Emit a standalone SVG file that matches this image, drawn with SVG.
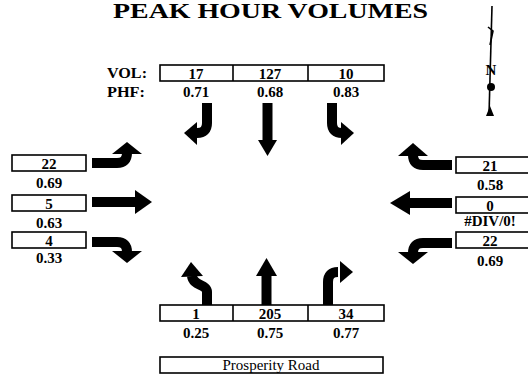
<svg xmlns="http://www.w3.org/2000/svg" width="528" height="385" viewBox="0 0 528 385">
<style>
.t{font-family:"Liberation Serif","Times New Roman",serif;fill:#000}
.b{font-weight:bold}
.v{font-size:15px;font-weight:bold;text-anchor:middle}
.lab{font-size:15px;font-weight:bold}
.box{fill:#fff;stroke:#000;stroke-width:1.6}
.shaft{fill:none;stroke:#000;stroke-width:10}
.hd{fill:#000}
</style>
<rect width="528" height="385" fill="#fff"/>
<g id="title">
<text class="t b" x="113" y="18" font-size="20" textLength="315" lengthAdjust="spacingAndGlyphs">PEAK HOUR VOLUMES</text>
</g>
<g id="north-arrow">
<line x1="492" y1="6" x2="489" y2="115" stroke="#000" stroke-width="1.6"/>
<path d="M488,27 L493,31 L490,45" fill="none" stroke="#000" stroke-width="1.6"/>
<text class="t b" x="491" y="75" font-size="15" text-anchor="middle">N</text>
<circle cx="491" cy="87" r="4" fill="#000"/>
<path d="M486,116 L494,116 L490,106 Z" fill="#000"/>
</g>
<g id="southbound">
<text class="t lab" x="107" y="78" textLength="40" lengthAdjust="spacingAndGlyphs">VOL:</text>
<text class="t lab" x="107" y="97" textLength="38" lengthAdjust="spacingAndGlyphs">PHF:</text>
<rect class="box" x="160" y="65" width="224" height="16"/>
<line x1="233" y1="65" x2="233" y2="81" stroke="#000" stroke-width="1.6"/>
<line x1="308" y1="65" x2="308" y2="81" stroke="#000" stroke-width="1.6"/>
<text class="t v" x="196" y="79">17</text>
<text class="t v" x="270" y="79">127</text>
<text class="t v" x="346" y="79">10</text>
<text class="t v" x="196" y="97">0.71</text>
<text class="t v" x="270" y="97">0.68</text>
<text class="t v" x="346" y="97">0.83</text>
</g>
<g id="northbound">
<rect class="box" x="160" y="305" width="224" height="16"/>
<line x1="233" y1="305" x2="233" y2="321" stroke="#000" stroke-width="1.6"/>
<line x1="308" y1="305" x2="308" y2="321" stroke="#000" stroke-width="1.6"/>
<text class="t v" x="196" y="319">1</text>
<text class="t v" x="270" y="319">205</text>
<text class="t v" x="346" y="319">34</text>
<text class="t v" x="196" y="338">0.25</text>
<text class="t v" x="270" y="338">0.75</text>
<text class="t v" x="346" y="338">0.77</text>
</g>
<g id="eastbound">
<rect class="box" x="12" y="155" width="74" height="16"/>
<text class="t v" x="49" y="169">22</text>
<text class="t v" x="49" y="188">0.69</text>
<rect class="box" x="12" y="195" width="74" height="16"/>
<text class="t v" x="49" y="209">5</text>
<text class="t v" x="49" y="228">0.63</text>
<rect class="box" x="12" y="232" width="74" height="16"/>
<text class="t v" x="49" y="246">4</text>
<text class="t v" x="49" y="263">0.33</text>
</g>
<g id="westbound">
<rect class="box" x="456" y="157" width="76" height="16"/>
<text class="t v" x="490" y="171">21</text>
<text class="t v" x="490" y="190">0.58</text>
<rect class="box" x="456" y="197" width="76" height="16"/>
<text class="t v" x="490" y="211">0</text>
<text class="t v" x="490" y="226">#DIV/0!</text>
<rect class="box" x="456" y="232" width="76" height="16"/>
<text class="t v" x="490" y="246">22</text>
<text class="t v" x="490" y="266">0.69</text>
</g>
<g id="street-name">
<rect class="box" x="160" y="357" width="223" height="16"/>
<text class="t" x="271" y="370" font-size="15" text-anchor="middle">Prosperity Road</text>
</g>
<g id="connectors">
<path class="shaft" d="M207,103 L207,123 Q207,133 197,133"/>
<polygon class="hd" points="197,122 197,145 184,133"/>
<path class="shaft" d="M267.5,103 L267.5,141" stroke-width="8"/>
<polygon class="hd" points="258,140 277,140 267.5,156"/>
<path class="shaft" d="M332,103 L332,123 Q332,133 342,133"/>
<polygon class="hd" points="341,122 341,145 354,133"/>
<path class="shaft" d="M207,305 L207,292 C207,284 193,286 192,276"/>
<polygon class="hd" points="181,277 203,276 191,262"/>
<path class="shaft" d="M266.5,305 L266.5,274" stroke-width="9"/>
<polygon class="hd" points="256,276 277,276 266.5,258"/>
<path class="shaft" d="M328,305 L328,282 Q328,272 338,272"/>
<polygon class="hd" points="340,261 340,283 353,272"/>
<path class="shaft" d="M92,163 L117,163 Q127,163 127,153"/>
<polygon class="hd" points="112,154 142,154 127,142"/>
<path class="shaft" d="M92,202 L136,202"/>
<polygon class="hd" points="135,190 135,214 152,202"/>
<path class="shaft" d="M92,242 L117,242 Q127,242 127,252"/>
<polygon class="hd" points="112,251 142,251 127,263"/>
<path class="shaft" d="M452,165 L423,165 Q413,165 413,155"/>
<polygon class="hd" points="398,156 428,156 413,143"/>
<path class="shaft" d="M452,203 L408,203"/>
<polygon class="hd" points="410,191 410,215 390,203"/>
<path class="shaft" d="M452,243 L423,243 Q413,243 413,253"/>
<polygon class="hd" points="398,252 428,252 413,264"/>
</g>
</svg>
